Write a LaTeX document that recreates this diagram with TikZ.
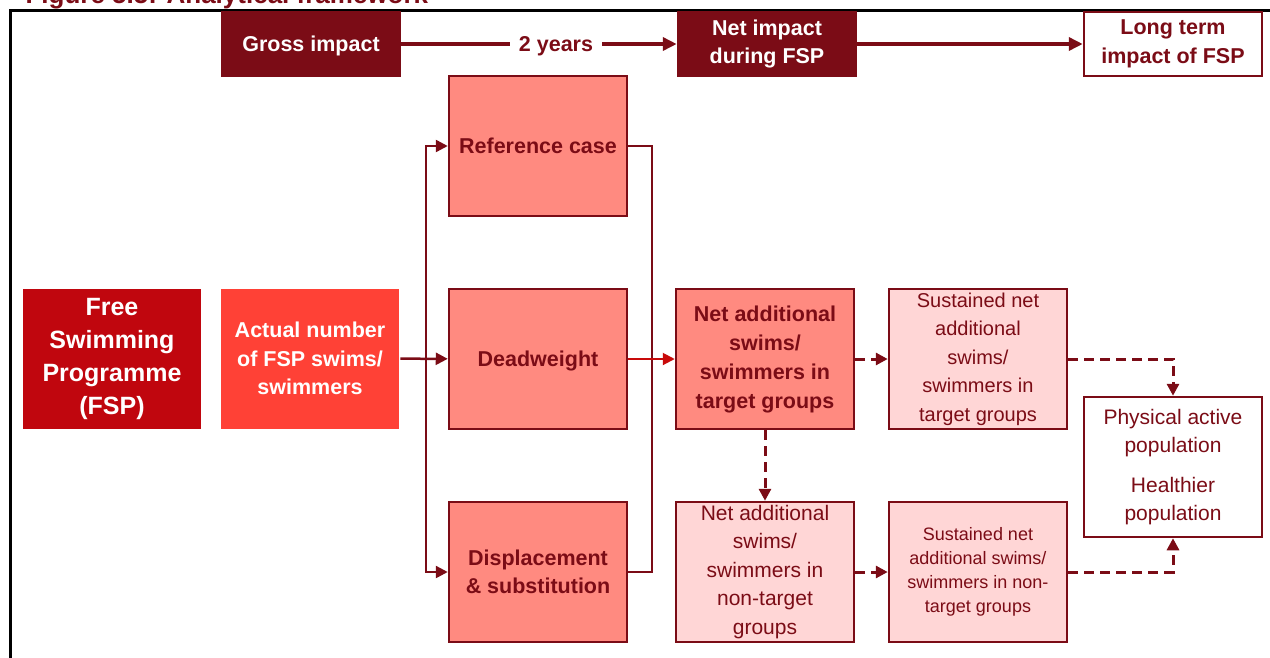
\documentclass[tikz,border=0pt]{standalone}
\usepackage{fontspec}
\setmainfont{Liberation Sans}
\usepackage{xcolor}
\usetikzlibrary{arrows.meta}

\definecolor{fspdark}{RGB}{123,12,22}
\definecolor{fspred}{RGB}{192,6,14}
\definecolor{fspbright}{RGB}{255,65,54}
\definecolor{fspsalmon}{RGB}{255,138,128}
\definecolor{fsppink}{RGB}{255,214,214}
\definecolor{fsparrow}{RGB}{200,10,10}

\tikzset{
  box/.style={draw=fspdark, line width=2.5pt, minimum width=178pt, minimum height=140pt,
    inner sep=0pt, align=center, text=fspdark, font=\bfseries\fontsize{21.5}{28.5}\selectfont},
  topbox/.style={box, minimum height=64pt, fill=fspdark, text=white},
  conn/.style={draw=fspdark, line width=2.5pt, -{Triangle[length=12pt,width=12pt]}},
  dashconn/.style={conn, line width=3pt, dash pattern=on 10pt off 6pt},
}

\begin{document}
\begin{tikzpicture}[x=1pt,y=-1pt] % pixel grid, y downwards
   \clip (0,0) rectangle (1270,657);
   \draw[line width=3pt] (10,10) rectangle (1300,700); % outer frame
   \node (title) [anchor=base west, text=fspdark, font=\bfseries\fontsize{26}{30}\selectfont] at (22,3) {Figure 5.5: Analytical framework};
   % top row
   \node (gross) [topbox, text depth=0pt] at (311,44) {Gross impact};
   \node (netfsp) [topbox] at (767,44) {Net impact\\during FSP};
   \node (longterm) [topbox, fill=white, text=fspdark] at (1173,44) {Long term\\impact of FSP};
   \node (years) [text=fspdark, inner sep=9pt, text depth=0pt, font=\bfseries\fontsize{21.5}{28.5}\selectfont] at (556,44) {2 years};
   \draw[fspdark, line width=4pt] (gross) -- (years);
   \draw[conn, line width=4pt, -{Triangle[length=14pt,width=13pt]}] (years) -- (netfsp.west |- years);
   \draw[conn, line width=4pt, -{Triangle[length=14pt,width=13pt]}] (netfsp.east |- years) -- (longterm.west |- years);
   % programme and effects
   \node (fsp) [box, draw=none, fill=fspred, text=white, font=\bfseries\fontsize{25}{33}\selectfont] at (112,358.5) {Free\\Swimming\\Programme\\(FSP)};
   \node (actual) [box, draw=none, fill=fspbright, text=white] at (310,358.5) {Actual number\\of FSP swims/\\swimmers};
   \node (ref) [box, fill=fspsalmon, text depth=0pt] at (538,146) {Reference case};
   \node (dead) [box, fill=fspsalmon, text depth=0pt] at (538,359) {Deadweight};
   \node (disp) [box, fill=fspsalmon] at (538,572) {Displacement\\\& substitution};
   \node (nettg) [box, fill=fspsalmon, font=\bfseries\fontsize{21.5}{29}\selectfont] at (765,359) {Net additional\\swims/\\swimmers in\\target groups};
   \node (sustg) [box, fill=fsppink, font=\fontsize{20}{28.5}\selectfont] at (978,359) {Sustained net\\additional\\swims/\\swimmers in\\target groups};
   \node (netnt) [box, fill=fsppink, font=\fontsize{21}{28.5}\selectfont] at (765,572) {Net additional\\swims/\\swimmers in\\non-target\\groups};
   \node (susnt) [box, fill=fsppink, font=\fontsize{18}{24}\selectfont] at (978,572) {Sustained net\\additional swims/\\swimmers in non-\\target groups};
   \node (health) [box, fill=white, font=\fontsize{21}{28}\selectfont] at (1173,467) {Physical active\\population\\[12pt]Healthier\\population};
   % split and join round the three cases
   \coordinate (split) at (426,358);
   \coordinate (join) at (652,358);
   \draw[conn] (actual) -- (dead);
   \draw[conn] (split) |- (ref.west);
   \draw[conn] (split) |- (disp.west);
   \draw[fspdark, line width=2.5pt] (ref.east) -| (join) |- (disp.east);
   \draw[conn, draw=fsparrow, fill=fsparrow, line width=2pt] (dead) -- (nettg);
   % dashed links to the long term
   \draw[dashconn] (nettg) -- (sustg);
   \draw[dashconn] (nettg) -- (netnt);
   \draw[dashconn] (netnt) -- (susnt);
   \draw[dashconn] (sustg) -| (health);
   \draw[dashconn] (susnt) -| (health);
\end{tikzpicture}
\end{document}
